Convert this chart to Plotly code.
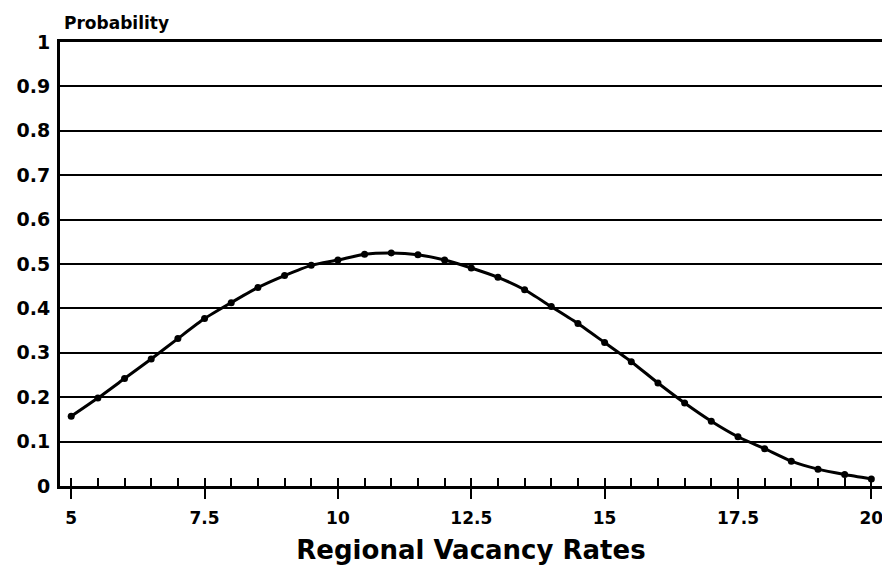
import plotly.graph_objects as go

vacancy_rate = [5, 5.5, 6, 6.5, 7, 7.5, 8, 8.5, 9, 9.5, 10, 10.5, 11, 11.5, 12, 12.5,
                13, 13.5, 14, 14.5, 15, 15.5, 16, 16.5, 17, 17.5, 18, 18.5, 19, 19.5, 20]
probability = [0.157, 0.198, 0.242, 0.286, 0.332, 0.377, 0.413, 0.447, 0.474, 0.497,
               0.509, 0.522, 0.525, 0.521, 0.509, 0.491, 0.470, 0.442, 0.404, 0.366,
               0.323, 0.280, 0.232, 0.187, 0.146, 0.111, 0.084, 0.056, 0.038, 0.026, 0.016]

x_tickvals = [5, 7.5, 10, 12.5, 15, 17.5, 20]
x_ticktext = ["5", "7.5", "10", "12.5", "15", "17.5", "20"]
y_tickvals = [0, 0.1, 0.2, 0.3, 0.4, 0.5, 0.6, 0.7, 0.8, 0.9, 1]
y_ticktext = ["0", "0.1", "0.2", "0.3", "0.4", "0.5", "0.6", "0.7", "0.8", "0.9", "1"]

FONT = "DejaVu Sans"

fig = go.Figure()
fig.add_trace(go.Scatter(
    x=vacancy_rate, y=probability, mode="lines+markers",
    line=dict(color="black", width=3, shape="spline", smoothing=0.6),
    marker=dict(color="black", size=7),
    showlegend=False,
))

# the page body adds an 8px offset, so the figure is sized to fit the 890x574 window
fig.update_layout(
    width=882, height=566,
    margin=dict(l=52, r=5, t=34, b=88),
    paper_bgcolor="white", plot_bgcolor="white",
    font=dict(family=FONT, color="black"),
    xaxis=dict(
        range=[4.79, 20.2], tickvals=x_tickvals, ticktext=x_ticktext,
        ticks="outside", ticklen=10, tickwidth=2, tickcolor="black",
        minor=dict(dtick=0.5, tick0=5, ticks="inside", ticklen=8, tickwidth=2, tickcolor="black", showgrid=False),
        showgrid=False, zeroline=False,
        showline=True, linecolor="black", linewidth=3, mirror=True,
        tickfont=dict(family=FONT, size=17, color="black", weight="bold"),
        ticklabelstandoff=5,
        title=dict(text="Regional Vacancy Rates", font=dict(family=FONT, size=26, color="black", weight="bold"), standoff=14),
    ),
    yaxis=dict(
        range=[0, 1], tickvals=y_tickvals, ticktext=y_ticktext,
        ticks="", showgrid=True, gridcolor="black", gridwidth=2, zeroline=False,
        showline=True, linecolor="black", linewidth=3, mirror=True,
        tickfont=dict(family=FONT, size=19, color="black", weight="bold"),
        ticklabelstandoff=3,
    ),
    annotations=[dict(
        text="Probability", x=0, y=1, xref="paper", yref="paper",
        xanchor="left", yanchor="bottom", yshift=7, xshift=2, showarrow=False,
        font=dict(family=FONT, size=17, color="black", weight="bold"),
    )],
)

fig.write_html("out.html")
